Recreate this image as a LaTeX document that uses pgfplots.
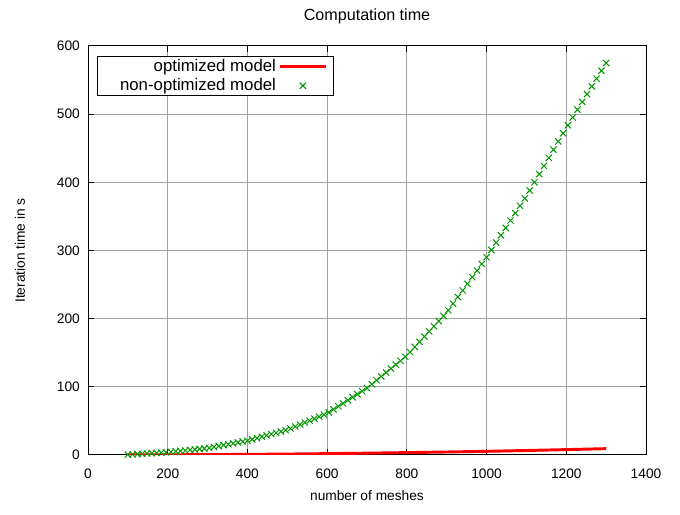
\documentclass[border=0pt]{standalone}
\usepackage{fontspec}
\setmainfont{Liberation Sans}
\usepackage{pgfplots}
\pgfplotsset{compat=1.18}
\definecolor{gpred}{RGB}{255,0,0}
\definecolor{gpgreen}{RGB}{0,150,0}
\pgfplotsset{
  longline/.style={legend image code/.code={\draw[##1] (0cm,0cm) -- (1.2cm,0cm);}},
  midmark/.style={legend image code/.code={\draw[mark repeat=2,mark phase=2,##1] plot coordinates {(0cm,0cm) (0.6cm,0cm) (1.2cm,0cm)};}},
}
\begin{document}
\fontsize{10.3}{12.4}\selectfont
\begin{tikzpicture}
\begin{axis}[
  scale only axis,
  width=418.5pt, height=306.75pt,
  xmin=0, xmax=1400, ymin=0, ymax=600,
  xtick={0,200,...,1400}, ytick={0,100,...,600},
  /pgf/number format/assume math mode=true,
  /pgf/number format/1000 sep={},
  grid=major,
  major grid style={color=black!36, line width=0.75pt},
  axis line style={black, line width=0.75pt},
  tick style={black, line width=0.75pt},
  major tick length=4.5pt,
  tick align=inside,
  x tick label style={yshift=-7pt},
  y tick label style={xshift=-2.5pt},
  title={Computation time},
  title style={at={(axis description cs:0.5,1.052)}, anchor=center, font=\fontsize{12.1}{14}\selectfont},
  xlabel={number of meshes},
  xlabel style={at={(axis description cs:0.5,-0.1)}, anchor=center},
  ylabel={Iteration time in s},
  ylabel style={at={(axis description cs:-0.122,0.5)}, anchor=center},
  legend plot pos=right,
  legend cell align=right,
  legend style={at={(axis description cs:0.0161,0.9756)}, anchor=north west,
    draw=black, line width=0.6pt, inner xsep=5pt, inner ysep=0pt,
    row sep=0pt, font=\fontsize{12.6}{15}\selectfont,
    every odd column/.style={column sep=4pt}},
]
\addplot[color=gpred, line width=2.2pt, no markers, longline] coordinates {
(100,0.1) (200,0.3) (300,0.6) (400,0.9) (500,1.4) (600,2.0) (700,2.7) (800,3.5)
(900,4.4) (1000,5.4) (1100,6.6) (1200,7.9) (1300,9.3)
};
\addlegendentry{optimized model}
\addplot[only marks, color=gpgreen, mark=x, mark size=3.3pt, mark options={line width=0.75pt}, midmark] coordinates {
(100,0.5) (112,0.9) (124,1.3) (136,1.8) (148,2.2) (160,2.6) (172,3.0) (184,3.4) (196,3.9)
(208,4.5) (220,5.2) (232,5.9) (244,6.6) (256,7.4) (268,8.1) (280,8.8) (292,9.5)
(304,10.4) (316,11.8) (328,13.1) (340,14.4) (352,15.7) (364,17.0) (376,18.4) (388,19.7) (400,21.0)
(412,22.9) (424,24.8) (436,26.8) (448,28.7) (460,30.6) (472,32.5) (484,34.4) (496,36.4)
(508,38.9) (520,41.8) (532,44.7) (544,47.6) (556,50.4) (568,53.3) (580,56.2) (592,59.1)
(604,62.5) (616,66.9) (628,71.4) (640,75.8) (652,80.2) (664,84.7) (676,89.1) (688,93.6) (700,98.0)
(712,103.8) (724,109.5) (736,115.3) (748,121.0) (760,126.8) (772,132.6) (784,138.3) (796,144.1)
(808,151.0) (820,158.6) (832,166.2) (844,173.7) (856,181.3) (868,188.8) (880,196.4) (892,204.0)
(904,212.2) (916,222.0) (928,231.7) (940,241.4) (952,251.1) (964,260.8) (976,270.6) (988,280.3) (1000,290.0)
(1012,300.8) (1024,311.6) (1036,322.4) (1048,333.2) (1060,344.0) (1072,354.8) (1084,365.6) (1096,376.4)
(1108,388.0) (1120,400.0) (1132,412.0) (1144,424.0) (1156,436.0) (1168,448.0) (1180,460.0) (1192,472.0)
(1204,483.8) (1216,495.2) (1228,506.6) (1240,518.0) (1252,529.4) (1264,540.8) (1276,552.2) (1288,563.6) (1300,575.0)
};
\addlegendentry{\hspace*{10pt}non-optimized model}
\end{axis}
\path ([xshift=-66pt,yshift=-45pt]current axis.south west) rectangle ([xshift=25.5pt,yshift=34.5pt]current axis.north east);
\end{tikzpicture}
\end{document}
